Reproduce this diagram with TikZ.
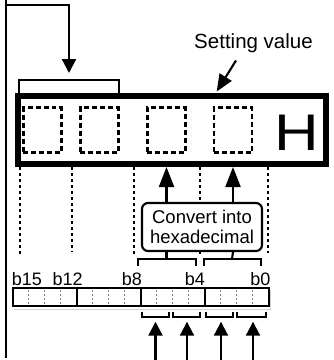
\documentclass[tikz,border=0pt]{standalone}
\usepackage{fontspec}
\usepackage{graphicx}
\setmainfont{Liberation Sans}
\usetikzlibrary{arrows.meta}
\begin{document}
\begin{tikzpicture}[x=1pt,y=-1pt,
  ln/.style={line width=2.1pt},
  bigarr/.style={ln,-{Triangle[length=14pt,width=14pt]}},
  uparr/.style={ln,-{Triangle[length=20pt,width=15pt]}},
  svarr/.style={ln,-{Triangle[length=17pt,width=14pt]}},
  digitbox/.style={draw,line width=2.1pt,dash pattern=on 5pt off 3pt,minimum width=38pt,minimum height=45pt,inner sep=0pt},
  dotln/.style={line width=2.1pt,dash pattern=on 3.3pt off 2.7pt},
  bitdot/.style={gray,line width=1pt,dash pattern=on 2pt off 2pt},
  lbl/.style={inner sep=0pt,font=\fontsize{18}{20}\selectfont}]
\useasboundingbox (0,0) rectangle (334,360);
% display box
\node[draw,line width=6pt,minimum width=308pt,minimum height=68pt,inner sep=0pt] (disp) at (172,130) {};
\node[digitbox] (d1) at (42.5,130) {};
\node[digitbox] (d2) at (99.5,130) {};
\node[digitbox] (d3) at (166.5,130) {};
\node[digitbox] (d4) at (233,130) {};
\node[anchor=base,inner sep=0pt,font=\fontsize{51.5}{52}\selectfont] (h) at (296.5,150) {\scalebox{1.2}[1]{H}};
% setting value
\node[anchor=base,inner sep=0pt,font=\fontsize{20.5}{24}\selectfont] (sv) at (253.5,48) {Setting value};
\coordinate (svs) at (236,60.5);
\coordinate (svt) at (216.7,91.5);
\draw[svarr] (svs) -- (svt);
% left line and top arrow
\coordinate (ltop) at (5.7,0);
\coordinate (lbot) at (5.7,358);
\draw[ln] (ltop) -- (lbot);
\coordinate (tl) at (5.7,5.3);
\coordinate (tt) at (69,73);
\draw[bigarr] (tl) -| (tt);
% bracket over first two digits
\draw[ln] (19,94) |- (119,80) -- (119,94);
% dotted drop lines
\foreach \x/\yy in {20/255,71.7/251.7,134/255,200/255,268/253}
  \draw[dotln] (\x,167) -- (\x,\yy);
% convert box
\node[draw,fill=white,line width=2.1pt,rounded corners=6pt,minimum width=120pt,minimum height=48pt,inner sep=0pt,align=center,font=\fontsize{18.5}{19.5}\selectfont] (conv) at (202,227) {Convert into\\hexadecimal};
\draw[uparr] (conv.north -| d3) -- (disp.south -| d3);
\draw[uparr] (conv.north -| d4) -- (disp.south -| d4);
% brackets under convert box
\draw[ln] (conv.south -| d3) -- (166.5,259);
\draw[ln] (conv.south -| d4) -- (232,259);
\draw[ln] (138,266) |- (196,259) -- (196,266);
\draw[ln] (204,266) |- (261,259) -- (261,266);
% bit labels
\node[lbl,anchor=base west] (b15) at (11.7,285) {b15};
\node[lbl,anchor=base west] (b12) at (52.3,285) {b12};
\node[lbl,anchor=base east] (b8) at (142,285) {b8};
\node[lbl,anchor=base east] (b4) at (205.2,285) {b4};
\node[lbl,anchor=base east] (b0) at (270.5,285) {b0};
% register bar
\draw[gray!35,line width=1pt] (14,309) -- (270.5,309) -- (270.5,290);
\node[draw,line width=2.1pt,minimum width=256pt,minimum height=18pt,inner sep=0pt] (bar) at (140.7,297.3) {};
\foreach \k in {1,2,3,5,6,7,9,10,11,13,14,15}
  \draw[bitdot] (12.7+16*\k,290) -- (12.7+16*\k,305.5);
\foreach \k in {4,8,12}
  \draw[ln] (12.7+16*\k,288.3) -- (12.7+16*\k,306.3);
% brackets under bar
\foreach \a/\b in {142/169,173/200,206/233,237/266}
  \draw[ln] (\a,311.5) |- (\b,317) -- (\b,311.5);
% bottom arrows
\foreach \x [count=\i] in {155.5,187,221,253} {
  \coordinate (ab\i) at (\x,360);
  \coordinate (at\i) at (\x,321.7);
  \draw[bigarr] (ab\i) -- (at\i);
}
\end{tikzpicture}
\end{document}
